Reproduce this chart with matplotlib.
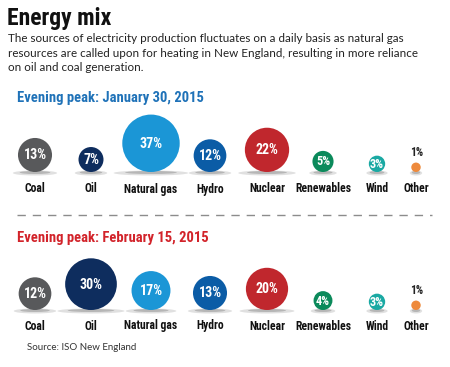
import matplotlib

matplotlib.use("Agg")
import matplotlib.pyplot as plt
from matplotlib.patches import Circle, Ellipse

sources = ["Coal", "Oil", "Natural gas", "Hydro", "Nuclear", "Renewables", "Wind", "Other"]
jan_30 = [13, 7, 37, 12, 22, 5, 3, 1]
feb_15 = [12, 30, 17, 13, 20, 4, 3, 1]
colors = ["#58595b", "#0e2d5e", "#1b96d6", "#0b5ca6", "#c0272d", "#0b8a5b", "#1aa9a3", "#ee8a3c"]

TITLE = "Energy mix"
SUBTITLE = ("The sources of electricity production fluctuates on a daily basis as natural gas\n"
            "resources are called upon for heating in New England, resulting in more reliance\n"
            "on oil and coal generation.")
HEAD_JAN = "Evening peak: January 30, 2015"
HEAD_FEB = "Evening peak: February 15, 2015"
SOURCE = "Source: ISO New England"

BOLD = ["Roboto Condensed", "Liberation Sans Narrow", "DejaVu Sans"]
REG = ["Lato", "Liberation Sans", "DejaVu Sans"]

# layout in pixels
x_pos = [35, 91, 151, 210, 267, 323, 377, 416]
scale = 4.72  # radius = scale * sqrt(percent)


def draw_row(ax, values, baseline, label_y):
    for x, v, c, name in zip(x_pos, values, colors, sources):
        r = scale * v ** 0.5
        cy = baseline - r
        ax.add_patch(Ellipse((x, baseline + 1), r * 2.6, 5, color="#cccccc", alpha=0.6, lw=0))
        ax.add_patch(Ellipse((x, baseline + 0.5), r * 1.8, 3, color="#9a9a9a", alpha=0.6, lw=0))
        ax.add_patch(Circle((x, cy), r, color=c, lw=0))
        if v >= 3:
            fs = 10 if v >= 7 else 8.8
            ax.text(x, cy + 0.5, f"{v}%", color="white", fontsize=fs, fontweight="bold",
                    family=BOLD, ha="center", va="center")
        else:
            ax.text(x + 1, cy - r - 4, f"{v}%", color="#222222", fontsize=8.3, fontweight="bold",
                    family=BOLD, ha="center", va="bottom")
        ax.text(x, label_y, name, color="#111111", fontsize=8.4, fontweight="bold",
                family=BOLD, ha="center", va="center")


fig = plt.figure(figsize=(4.5, 3.67), dpi=100)
ax = fig.add_axes([0, 0, 1, 1])
ax.set_xlim(0, 450)
ax.set_ylim(367, 0)
ax.axis("off")

ax.text(7, 18, TITLE, fontsize=17, fontweight="bold", family=BOLD, va="center", color="#111111")
ax.text(8, 33, SUBTITLE, fontsize=8.4, family=REG, va="top", color="#222222", linespacing=1.4)

ax.text(17, 98, HEAD_JAN, fontsize=10.5, fontweight="bold", family=BOLD, va="center", color="#1f72b8")
draw_row(ax, jan_30, 172, 189)

ax.plot([17, 432], [215, 215], color="#8c8c8c", lw=1, dashes=(6, 5))

ax.text(17, 238, HEAD_FEB, fontsize=10.5, fontweight="bold", family=BOLD, va="center", color="#d2232a")
draw_row(ax, feb_15, 310, 326)

ax.text(27, 347, SOURCE, fontsize=7, family=REG, va="center", color="#333333")

fig.savefig("out.png", dpi=100)
